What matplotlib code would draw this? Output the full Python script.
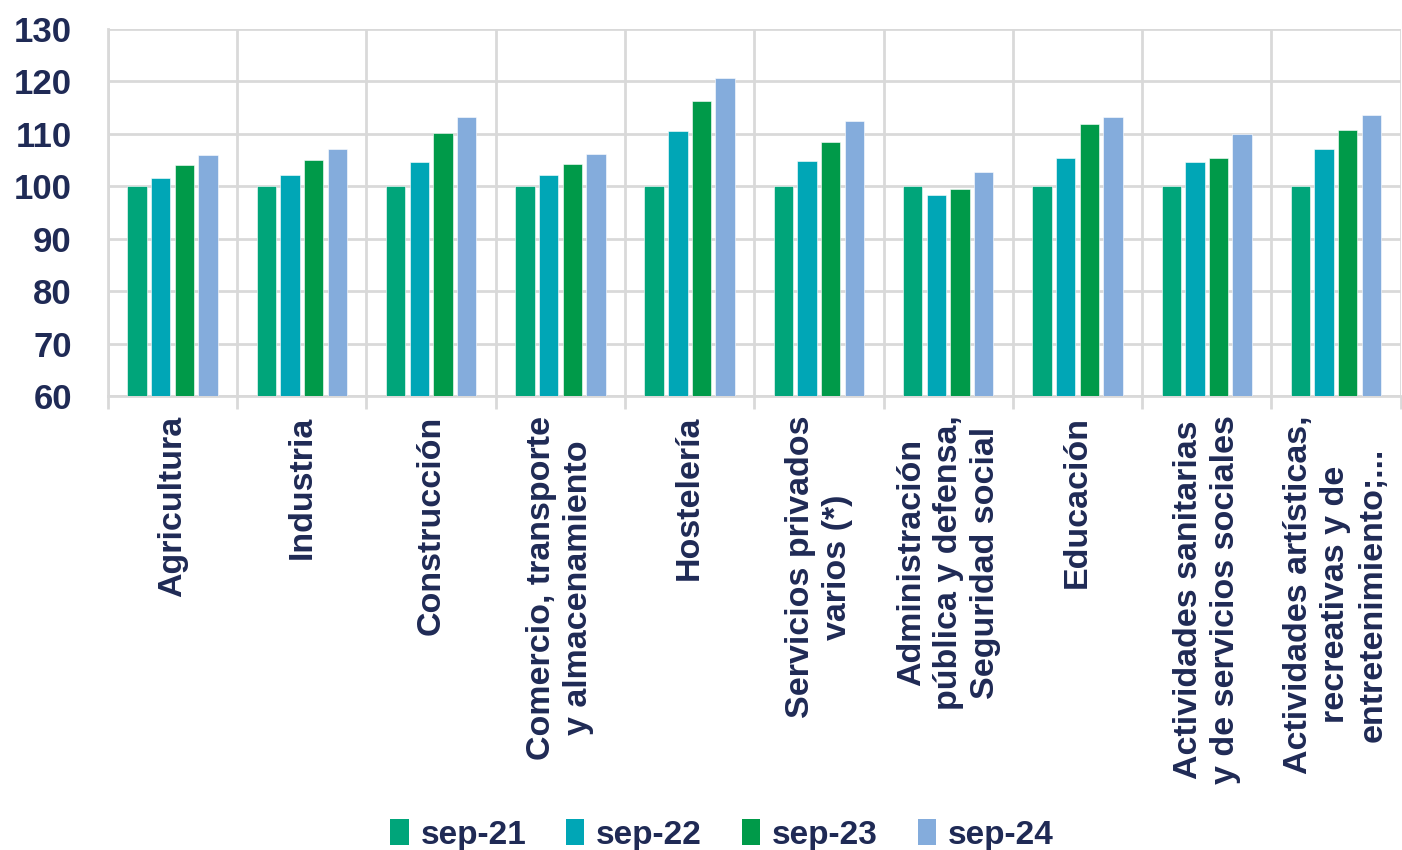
import numpy as np
import matplotlib.pyplot as plt
from matplotlib.patches import Patch

categories = [
    "Agricultura",
    "Industria",
    "Construcción",
    "Comercio, transporte\ny almacenamiento",
    "Hostelería",
    "Servicios privados\nvarios (*)",
    "Administración\npública y defensa,\nSeguridad social",
    "Educación",
    "Actividades sanitarias\ny de servicios sociales",
    "Actividades artísticas,\nrecreativas y de\nentretenimiento;...",
]
series_names = ["sep-21", "sep-22", "sep-23", "sep-24"]
sep21 = [100, 100, 100, 100, 100, 100, 100, 100, 100, 100]
sep22 = [101.6, 102.2, 104.6, 102.2, 110.6, 104.8, 98.4, 105.3, 104.6, 107.2]
sep23 = [104.0, 105.1, 110.2, 104.3, 116.3, 108.5, 99.4, 111.9, 105.4, 110.8]
sep24 = [106.0, 107.2, 113.3, 106.2, 120.6, 112.5, 102.8, 113.2, 110.0, 113.5]

colors = ["#00A57A", "#00A6B6", "#009A49", "#84ACDC"]
text_color = "#1F2A55"
grid_color = "#D9D9D9"

plt.rcParams['font.family'] = ['Liberation Sans', 'DejaVu Sans']
plt.rcParams['font.weight'] = 'bold'

fig = plt.figure(figsize=(14.02, 8.5), dpi=100)
ax = fig.add_axes([0.077, 0.534, 0.922, 0.432])

x = np.arange(len(categories))
step = 0.183
width = 0.15
for i, vals in enumerate([sep21, sep22, sep23, sep24]):
    ax.bar(x + (i - 1.5) * step, np.array(vals) - 60, width, bottom=60,
           color=colors[i], edgecolor='white', linewidth=0.4, zorder=3)

ax.set_ylim(60, 130)
ax.set_xlim(-0.5, len(categories) - 0.5)
ax.set_yticks(np.arange(60, 131, 10))
ax.grid(axis='y', color=grid_color, linewidth=2, zorder=0)

ax.set_xticks(x)
ax.set_xticklabels(categories, rotation=90, ha='center', va='top',
                   multialignment='center', fontsize=24.5, color=text_color,
                   fontweight='bold', linespacing=1.25)
ax.set_xticks(np.arange(-0.5, len(categories)), minor=True)
ax.grid(axis='x', which='minor', color=grid_color, linewidth=2, zorder=0)
ax.tick_params(axis='x', which='major', length=0, pad=14)
ax.tick_params(axis='x', which='minor', length=9, width=2, color=grid_color)
ax.tick_params(axis='y', length=0, pad=26, labelsize=25, labelcolor=text_color)
for lab in ax.get_yticklabels():
    lab.set_fontweight('bold')

for s in ax.spines.values():
    s.set_color(grid_color)
    s.set_linewidth(2)
ax.spines['top'].set_visible(False)
ax.spines['right'].set_visible(False)

handles = [Patch(facecolor=c, edgecolor='none') for c in colors]
fig.legend(handles, series_names, loc='lower center', bbox_to_anchor=(0.515, -0.036),
           ncol=4, frameon=False, handlelength=0.55, handleheight=0.85,
           handletextpad=0.35, columnspacing=1.2, labelcolor=text_color,
           prop={'weight': 'bold', 'size': 24})

fig.savefig("out.png", dpi=100)
